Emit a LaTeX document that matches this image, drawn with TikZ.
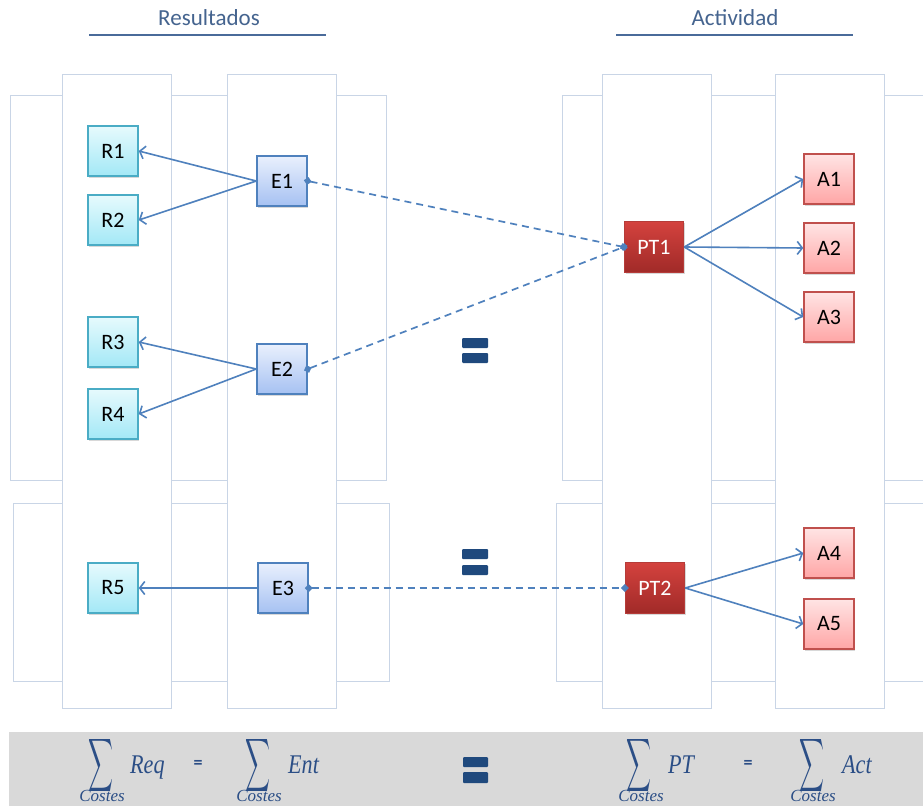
\documentclass[tikz,border=0pt]{standalone}
\usepackage{fontspec}
\usepackage{graphicx}
\setmainfont{Carlito}
\newfontfamily\formfont[FakeStretch=0.82]{Liberation Serif}
\newfontfamily\costfont{Liberation Serif}
\usetikzlibrary{arrows.meta,shadows}
\definecolor{frameC}{HTML}{C9D5E6}
\definecolor{arrC}{HTML}{4F81BD}
\definecolor{headC}{HTML}{45648F}
\definecolor{headLine}{HTML}{4A6B9A}
\definecolor{formC}{HTML}{2B4E86}
\definecolor{eqC}{HTML}{1F497D}
\definecolor{barC}{HTML}{D9D9D9}
\definecolor{rTop}{HTML}{E6FAFD}
\definecolor{rBot}{HTML}{A3E8F6}
\definecolor{rLine}{HTML}{4AACC5}
\definecolor{eTop}{HTML}{E9F0FD}
\definecolor{eBot}{HTML}{A6C1F2}
\definecolor{eLine}{HTML}{4F81BD}
\definecolor{aTop}{HTML}{FFE4E4}
\definecolor{aBot}{HTML}{FFA6A6}
\definecolor{aLine}{HTML}{C0504D}
\definecolor{pTop}{HTML}{D4423E}
\definecolor{pBot}{HTML}{A02A28}
\definecolor{pLine}{HTML}{B53C39}
\tikzset{
  frame/.style={draw=frameC, line width=1pt, fill=white},
  boxbase/.style={minimum width=50pt, minimum height=50pt, inner sep=0pt, line width=1.5pt,
     font=\fontsize{22}{24}\selectfont, drop shadow={shadow xshift=1pt, shadow yshift=-1.5pt, opacity=0.3}},
  rbox/.style={boxbase, draw=rLine, top color=rTop, bottom color=rBot},
  ebox/.style={boxbase, draw=eLine, top color=eTop, bottom color=eBot},
  abox/.style={boxbase, draw=aLine, top color=aTop, bottom color=aBot},
  ptbox/.style={boxbase, minimum width=59pt, minimum height=51pt, draw=pLine, top color=pTop, bottom color=pBot, text=white},
  arr/.style={draw=arrC, line width=1.6pt, -{Straight Barb[length=5pt,width=13pt,line width=1.6pt]}},
  dashconn/.style={draw=arrC, line width=1.7pt, dash pattern=on 7pt off 5pt,
     {Turned Square[length=8pt,width=8pt,sep=0pt]}-{Turned Square[length=8pt,width=8pt]},
     shorten <=-4pt, shorten >=-4pt},
  head/.style={text=headC, font=\fontsize{23}{25}\selectfont, anchor=base},
  headrule/.style={draw=headLine, line width=2.2pt},
  eqbar/.style={fill=eqC, rounded corners=1pt, draw=none},
  sumsym/.style={text=formC, inner sep=0pt},
  formtxt/.style={text=formC, font=\formfont\itshape\fontsize{27}{29}\selectfont, anchor=base west, inner sep=0pt},
  costes/.style={text=formC, font=\costfont\itshape\fontsize{17}{19}\selectfont, inner sep=0pt},
  smalleq/.style={text=formC, font=\bfseries\fontsize{18}{20}\selectfont, inner sep=0pt}
}
\newcommand{\bigsumglyph}{\resizebox{25pt}{39pt}{$\displaystyle\sum$}}
\begin{document}
\begin{tikzpicture}[x=1pt,y=-1pt]
\useasboundingbox (0,0) rectangle (923,808);
\clip (0,0) rectangle (923,808);
\fill[white] (0,0) rectangle (923,808);

% background horizontal frames (left)
\draw[frame] (10,95) rectangle (386,480);
\draw[frame] (13,503) rectangle (389,681);
% background horizontal frames (right)
\draw[frame] (562,95) rectangle (940,480);
\draw[frame] (556,503) rectangle (940,681);
% vertical columns
\draw[frame] (62,74) rectangle (171,708);
\draw[frame] (227,74) rectangle (336,708);
\draw[frame] (602,74) rectangle (711,708);
\draw[frame] (775,74) rectangle (884,708);

% headers
\node[head] (hres) at (209,26) {Resultados};
\draw[headrule] (89,35) -- (326,35);
\node[head] (hact) at (735,26) {Actividad};
\draw[headrule] (616,35) -- (853,35);

% nodes
\node[rbox] (R1) at (113,151) {R1};
\node[rbox] (R2) at (113,220) {R2};
\node[rbox] (R3) at (113,342) {R3};
\node[rbox] (R4) at (113,414) {R4};
\node[rbox] (R5) at (113,588) {R5};
\node[ebox] (E1) at (282,181) {E1};
\node[ebox] (E2) at (282,369) {E2};
\node[ebox] (E3) at (283,588) {E3};
\node[ptbox] (PT1) at (654,247) {PT1};
\node[ptbox] (PT2) at (655,588) {PT2};
\node[abox] (A1) at (829,179) {A1};
\node[abox] (A2) at (829,248) {A2};
\node[abox] (A3) at (829,317) {A3};
\node[abox] (A4) at (829,553) {A4};
\node[abox] (A5) at (829,624) {A5};

% connectors
\draw[arr] (E1.west) -- (R1.east);
\draw[arr] (E1.west) -- (R2.east);
\draw[arr] (E2.west) -- (R3.east);
\draw[arr] (E2.west) -- (R4.east);
\draw[arr] (E3.west) -- (R5.east);
\draw[arr] (PT1.east) -- (A1.west);
\draw[arr] (PT1.east) -- (A2.west);
\draw[arr] (PT1.east) -- (A3.west);
\draw[arr] (PT2.east) -- (A4.west);
\draw[arr] (PT2.east) -- (A5.west);
\draw[dashconn] (E1.east) -- (PT1.west);
\draw[dashconn] (E2.east) -- (PT1.west);
\draw[dashconn] (E3.east) -- (PT2.west);

% big equals signs
\fill[eqbar] (462,338) rectangle (488,348);
\fill[eqbar] (462,353) rectangle (488,363);
\fill[eqbar] (462,549) rectangle (488,559);
\fill[eqbar] (462,565) rectangle (488,575);

% bottom bar
\fill[barC] (9,732) rectangle (923,806);
\fill[eqbar] (463,757) rectangle (488,767);
\fill[eqbar] (463,772) rectangle (488,783);

\node[sumsym] (s1) at (101,765) {\bigsumglyph};
\node[formtxt] (t1) at (130,773) {Req};
\node[costes] (c1) at (102,796) {Costes};
\node[smalleq] (q1) at (198,764) {=};
\node[sumsym] (s2) at (258,765) {\bigsumglyph};
\node[formtxt] (t2) at (288,773) {Ent};
\node[costes] (c2) at (259,796) {Costes};

\node[sumsym] (s3) at (639,765) {\bigsumglyph};
\node[formtxt] (t3) at (668,773) {PT};
\node[costes] (c3) at (641,796) {Costes};
\node[smalleq] (q2) at (748,764) {=};
\node[sumsym] (s4) at (812,765) {\bigsumglyph};
\node[formtxt] (t4) at (842,773) {Act};
\node[costes] (c4) at (813,796) {Costes};
\end{tikzpicture}
\end{document}
